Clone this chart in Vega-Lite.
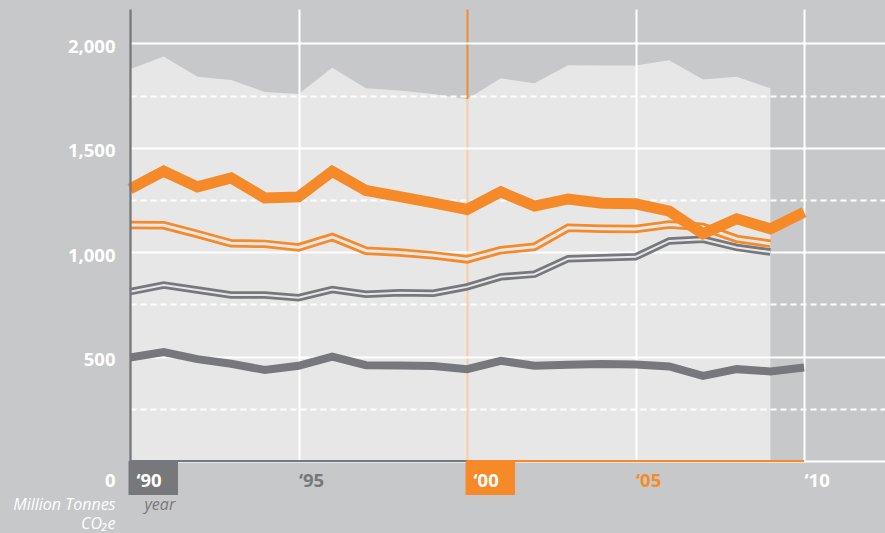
{
  "$schema": "https://vega.github.io/schema/vega-lite/v6.json",
  "width": 755,
  "height": 452,
  "autosize": {"type": "none"},
  "padding": {"left": 130, "top": 9, "right": 0, "bottom": 72},
  "background": "#c7c8ca",
  "config": {"view": {"stroke": null}, "font": "Open Sans"},
  "datasets": {
    "total": [
      {"year": 1990, "value": 1876}, {"year": 1991, "value": 1937}, {"year": 1992, "value": 1841},
      {"year": 1993, "value": 1825}, {"year": 1994, "value": 1768}, {"year": 1995, "value": 1758},
      {"year": 1996, "value": 1884}, {"year": 1997, "value": 1785}, {"year": 1998, "value": 1775},
      {"year": 1999, "value": 1758}, {"year": 2000, "value": 1733}, {"year": 2001, "value": 1833},
      {"year": 2002, "value": 1809}, {"year": 2003, "value": 1896}, {"year": 2004, "value": 1894},
      {"year": 2005, "value": 1894}, {"year": 2006, "value": 1920}, {"year": 2007, "value": 1827},
      {"year": 2008, "value": 1840}, {"year": 2009, "value": 1785}
    ],
    "series": [
      {"series": "S1", "year": 1990, "value": 1304}, {"series": "S1", "year": 1991, "value": 1388},
      {"series": "S1", "year": 1992, "value": 1313}, {"series": "S1", "year": 1993, "value": 1356},
      {"series": "S1", "year": 1994, "value": 1260}, {"series": "S1", "year": 1995, "value": 1265},
      {"series": "S1", "year": 1996, "value": 1387}, {"series": "S1", "year": 1997, "value": 1296},
      {"series": "S1", "year": 1998, "value": 1266}, {"series": "S1", "year": 1999, "value": 1236},
      {"series": "S1", "year": 2000, "value": 1205}, {"series": "S1", "year": 2001, "value": 1289},
      {"series": "S1", "year": 2002, "value": 1221}, {"series": "S1", "year": 2003, "value": 1255},
      {"series": "S1", "year": 2004, "value": 1235}, {"series": "S1", "year": 2005, "value": 1232},
      {"series": "S1", "year": 2006, "value": 1197}, {"series": "S1", "year": 2007, "value": 1088},
      {"series": "S1", "year": 2008, "value": 1160}, {"series": "S1", "year": 2009, "value": 1112},
      {"series": "S1", "year": 2010, "value": 1192},
      {"series": "S2", "year": 1990, "value": 1130}, {"series": "S2", "year": 1991, "value": 1129},
      {"series": "S2", "year": 1992, "value": 1087}, {"series": "S2", "year": 1993, "value": 1043},
      {"series": "S2", "year": 1994, "value": 1040}, {"series": "S2", "year": 1995, "value": 1023},
      {"series": "S2", "year": 1996, "value": 1073}, {"series": "S2", "year": 1997, "value": 1007},
      {"series": "S2", "year": 1998, "value": 999}, {"series": "S2", "year": 1999, "value": 985},
      {"series": "S2", "year": 2000, "value": 966}, {"series": "S2", "year": 2001, "value": 1010},
      {"series": "S2", "year": 2002, "value": 1026}, {"series": "S2", "year": 2003, "value": 1117},
      {"series": "S2", "year": 2004, "value": 1113}, {"series": "S2", "year": 2005, "value": 1111},
      {"series": "S2", "year": 2006, "value": 1133}, {"series": "S2", "year": 2007, "value": 1121},
      {"series": "S2", "year": 2008, "value": 1064}, {"series": "S2", "year": 2009, "value": 1041},
      {"series": "S3", "year": 1990, "value": 811}, {"series": "S3", "year": 1991, "value": 843},
      {"series": "S3", "year": 1992, "value": 819}, {"series": "S3", "year": 1993, "value": 795},
      {"series": "S3", "year": 1994, "value": 795}, {"series": "S3", "year": 1995, "value": 782},
      {"series": "S3", "year": 1996, "value": 821}, {"series": "S3", "year": 1997, "value": 799},
      {"series": "S3", "year": 1998, "value": 806}, {"series": "S3", "year": 1999, "value": 804},
      {"series": "S3", "year": 2000, "value": 834}, {"series": "S3", "year": 2001, "value": 882},
      {"series": "S3", "year": 2002, "value": 895}, {"series": "S3", "year": 2003, "value": 969},
      {"series": "S3", "year": 2004, "value": 973}, {"series": "S3", "year": 2005, "value": 978},
      {"series": "S3", "year": 2006, "value": 1054}, {"series": "S3", "year": 2007, "value": 1062},
      {"series": "S3", "year": 2008, "value": 1023}, {"series": "S3", "year": 2009, "value": 1001},
      {"series": "S4", "year": 1990, "value": 496}, {"series": "S4", "year": 1991, "value": 522},
      {"series": "S4", "year": 1992, "value": 488}, {"series": "S4", "year": 1993, "value": 466},
      {"series": "S4", "year": 1994, "value": 436}, {"series": "S4", "year": 1995, "value": 456},
      {"series": "S4", "year": 1996, "value": 500}, {"series": "S4", "year": 1997, "value": 459},
      {"series": "S4", "year": 1998, "value": 458}, {"series": "S4", "year": 1999, "value": 455},
      {"series": "S4", "year": 2000, "value": 440}, {"series": "S4", "year": 2001, "value": 480},
      {"series": "S4", "year": 2002, "value": 456}, {"series": "S4", "year": 2003, "value": 461},
      {"series": "S4", "year": 2004, "value": 465}, {"series": "S4", "year": 2005, "value": 462},
      {"series": "S4", "year": 2006, "value": 453}, {"series": "S4", "year": 2007, "value": 408},
      {"series": "S4", "year": 2008, "value": 440}, {"series": "S4", "year": 2009, "value": 429},
      {"series": "S4", "year": 2010, "value": 448}
    ],
    "decades": [
      {"decade": "1990s", "year": 1990, "end": 2000},
      {"decade": "2000s", "year": 2000, "end": 2010}
    ]
  },
  "resolve": {"axis": {"x": "independent", "y": "independent"}},
  "layer": [
    {
      "data": {"name": "total"},
      "mark": {"type": "area", "color": "white", "opacity": 0.571},
      "encoding": {
        "x": {
          "field": "year", "type": "quantitative",
          "scale": {"domain": [1990, 2012.4], "nice": false, "zero": false},
          "axis": {
            "orient": "bottom", "values": [1990, 1995, 2000, 2005, 2010],
            "grid": true, "gridWidth": 2,
            "gridColor": {"condition": {"test": "datum.value === 2000", "value": "#f68a29"}, "value": "white"},
            "gridOpacity": {"condition": {"test": "datum.value === 1990", "value": 0}, "value": 1},
            "labels": false, "ticks": false, "domain": false, "title": null, "zindex": 0
          }
        },
        "y": {
          "field": "value", "type": "quantitative",
          "scale": {"domain": [0, 2165], "nice": false, "zero": true},
          "axis": {
            "orient": "left",
            "values": [0, 250, 500, 750, 1000, 1250, 1500, 1750, 2000],
            "grid": true, "gridColor": "white", "gridWidth": 2,
            "gridDash": {"condition": {"test": "datum.value % 500 !== 0", "value": [6, 4]}, "value": []},
            "domain": false, "ticks": false,
            "labelExpr": "datum.value === 0 ? '0' : (datum.value % 500 === 0 ? format(datum.value, ',') : '')",
            "labelColor": "white", "labelFont": "Open Sans", "labelFontSize": 18.5, "labelFontWeight": "bold",
            "labelPadding": 15, "labelBaseline": "middle", "labelAlign": "right",
            "labelOffset": {"condition": {"test": "datum.value === 0", "value": 19}, "value": 3},
            "labelOverlap": false, "labelBound": false, "labelFlush": false,
            "title": ["Million Tonnes", "CO₂e"],
            "titleAngle": 0, "titleAlign": "right", "titleBaseline": "alphabetic",
            "titleX": -15, "titleY": 500, "titleLineHeight": 19.5,
            "titleFont": "Open Sans", "titleFontSize": 16, "titleFontStyle": "italic", "titleFontWeight": "normal",
            "titleColor": "white", "zindex": 0
          }
        }
      }
    },
    {
      "data": {"name": "series"},
      "transform": [{"filter": "datum.series === 'S3'"}],
      "mark": {"type": "line", "color": "#77787c", "strokeWidth": 7.5, "strokeJoin": "miter"},
      "encoding": {
        "x": {"field": "year", "type": "quantitative", "axis": null},
        "y": {"field": "value", "type": "quantitative", "axis": null}
      }
    },
    {
      "data": {"name": "series"},
      "transform": [{"filter": "datum.series === 'S3'"}],
      "mark": {"type": "line", "color": "#e7e7e8", "strokeWidth": 2, "strokeJoin": "miter"},
      "encoding": {
        "x": {"field": "year", "type": "quantitative", "axis": null},
        "y": {"field": "value", "type": "quantitative", "axis": null}
      }
    },
    {
      "data": {"name": "series"},
      "transform": [{"filter": "datum.series === 'S2'"}],
      "mark": {"type": "line", "color": "#f68a29", "strokeWidth": 8.5, "strokeJoin": "miter"},
      "encoding": {
        "x": {"field": "year", "type": "quantitative", "axis": null},
        "y": {"field": "value", "type": "quantitative", "axis": null}
      }
    },
    {
      "data": {"name": "series"},
      "transform": [{"filter": "datum.series === 'S2'"}],
      "mark": {"type": "line", "color": "#e7e7e8", "strokeWidth": 3, "strokeJoin": "miter"},
      "encoding": {
        "x": {"field": "year", "type": "quantitative", "axis": null},
        "y": {"field": "value", "type": "quantitative", "axis": null}
      }
    },
    {
      "data": {"name": "series"},
      "transform": [{"filter": "datum.series === 'S4'"}],
      "mark": {"type": "line", "color": "#77787c", "strokeWidth": 8, "strokeJoin": "miter"},
      "encoding": {
        "x": {"field": "year", "type": "quantitative", "axis": null},
        "y": {"field": "value", "type": "quantitative", "axis": null}
      }
    },
    {
      "data": {"name": "series"},
      "transform": [{"filter": "datum.series === 'S1'"}],
      "mark": {"type": "line", "color": "#f68a29", "strokeWidth": 11, "strokeJoin": "miter"},
      "encoding": {
        "x": {"field": "year", "type": "quantitative", "axis": null},
        "y": {"field": "value", "type": "quantitative", "axis": null}
      }
    },
    {
      "data": {"name": "decades"},
      "mark": {"type": "rule", "strokeWidth": 2},
      "encoding": {
        "x": {"field": "year", "type": "quantitative", "axis": null},
        "x2": {"field": "end"},
        "y": {
          "datum": 0, "type": "quantitative",
          "axis": {
            "orient": "left", "domain": true, "domainColor": "#77787c", "domainWidth": 2.3,
            "labels": false, "ticks": false, "grid": false, "title": null, "zindex": 1
          }
        },
        "stroke": {
          "field": "decade", "type": "nominal",
          "scale": {"domain": ["1990s", "2000s"], "range": ["#77787c", "#f68a29"]},
          "legend": null
        }
      }
    },
    {
      "data": {"name": "decades"},
      "mark": {"type": "rect", "xOffset": -1.5, "x2Offset": 48, "y2Offset": 34},
      "encoding": {
        "x": {
          "field": "year", "type": "quantitative",
          "axis": {
            "orient": "bottom", "values": [1990, 1995, 2000, 2005, 2010],
            "grid": false, "domain": false, "ticks": false,
            "labelExpr": "'‘' + substring(toString(datum.value), 2, 4)",
            "labelFont": "Open Sans", "labelFontSize": 18.5, "labelFontWeight": "bold",
            "labelAlign": "left", "labelBaseline": "middle", "labelPadding": 19,
            "labelColor": {"condition": [{"test": "datum.value === 1995", "value": "#77787c"}, {"test": "datum.value === 2005", "value": "#f68a29"}], "value": "white"},
            "labelOffset": {"condition": {"test": "datum.value === 1990 || datum.value === 2000", "value": 6}, "value": 0},
            "labelOverlap": false, "labelBound": false, "labelFlush": false,
            "title": "year", "titleFont": "Open Sans", "titleFontSize": 16, "titleFontStyle": "italic",
            "titleFontWeight": "normal", "titleColor": "#77787c",
            "titleAlign": "left", "titleBaseline": "alphabetic", "titleX": 14, "titleY": 48,
            "zindex": 1
          }
        },
        "x2": {"field": "year"},
        "y": {"datum": 0, "type": "quantitative", "axis": null},
        "y2": {"datum": 0},
        "fill": {
          "field": "decade", "type": "nominal",
          "scale": {"domain": ["1990s", "2000s"], "range": ["#77787c", "#f68a29"]},
          "legend": null
        }
      }
    }
  ]
}
